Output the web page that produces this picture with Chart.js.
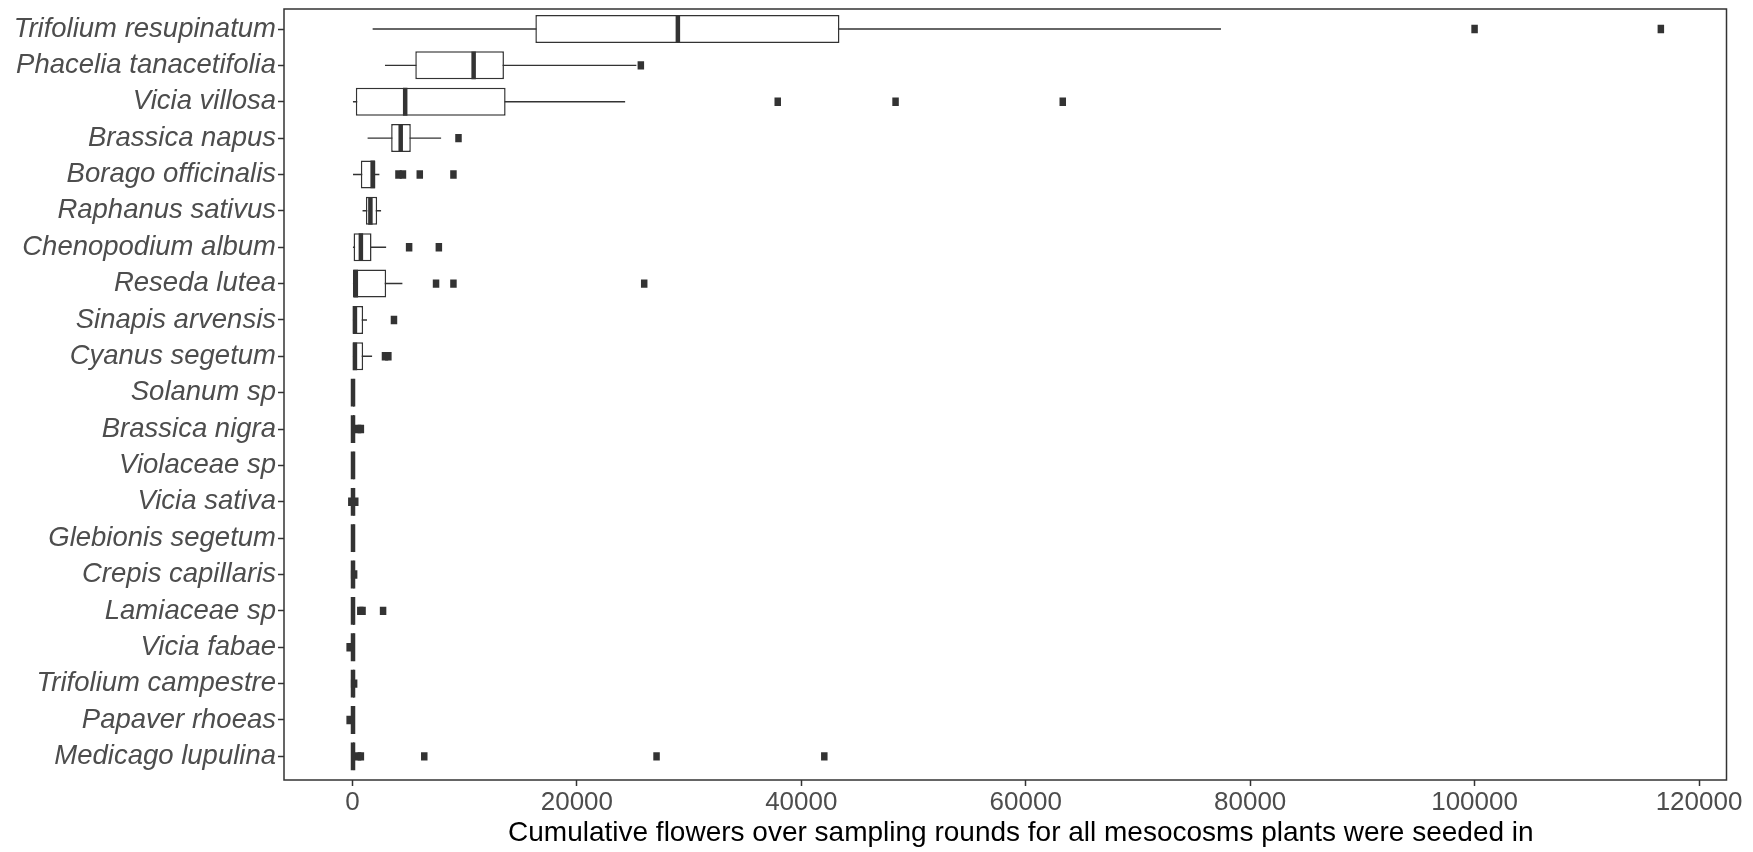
<!DOCTYPE html>
<html lang="en">
<head>
<meta charset="UTF-8">
<title>Cumulative flowers per species</title>
<script src="https://cdn.jsdelivr.net/npm/chart.js"></script>
<style>
    html, body { margin: 0; padding: 0; background: #fff; }
    .wrap { width: 1753px; height: 852px; }
</style>
</head>
<body>
<div class="wrap"><canvas id="flowerChart"></canvas></div>
<script>
// species, top to bottom
const species = [
    'Trifolium resupinatum', 'Phacelia tanacetifolia', 'Vicia villosa', 'Brassica napus',
    'Borago officinalis', 'Raphanus sativus', 'Chenopodium album', 'Reseda lutea',
    'Sinapis arvensis', 'Cyanus segetum', 'Solanum sp', 'Brassica nigra', 'Violaceae sp',
    'Vicia sativa', 'Glebionis segetum', 'Crepis capillaris', 'Lamiaceae sp', 'Vicia fabae',
    'Trifolium campestre', 'Papaver rhoeas', 'Medicago lupulina'
];

// box plot statistics
const whiskerLow  = [1800, 2900, 0, 1350, 50, 900, 0, 0, 0, 0, 0, 0, 0, 0, 0, 0, 0, 0, 0, 0, 0];
const q1          = [16300, 5600, 300, 3450, 750, 1200, 100, 0, 0, 0, 0, 0, 0, 0, 0, 0, 0, 0, 0, 0, 0];
const median      = [29000, 10800, 4700, 4300, 1800, 1600, 750, 300, 220, 220, 50, 50, 50, 50, 50, 50, 50, 50, 50, 50, 50];
const q3          = [43400, 13500, 13650, 5200, 2050, 2200, 1700, 3000, 950, 950, 180, 180, 180, 180, 180, 180, 180, 180, 180, 180, 180];
const whiskerHigh = [77400, 25300, 24300, 7900, 2400, 2550, 3000, 4450, 1300, 1750, 180, 180, 180, 180, 180, 180, 180, 180, 180, 180, 180];
const outliers = [
    [100000, 116600],
    [25700],
    [37900, 48400, 63300],
    [9450],
    [4100, 4500, 6000, 9000],
    [],
    [5050, 7700],
    [7450, 9000, 26000],
    [3700],
    [2900, 3200],
    [],
    [500, 750],
    [],
    [-100, 250],
    [],
    [150],
    [700, 900, 2730],
    [-250],
    [150],
    [-250],
    [500, 750, 6400, 27100, 42050]
];

const xTickValues = [0, 20000, 40000, 60000, 80000, 100000, 120000];
const xMin = -6100;
const xMax = 122450;

const dark = '#333333';
const labelGrey = '#4d4d4d';
const fontFamily = '"Liberation Sans", Arial, sans-serif';

const boxData = species.map((s, i) => ({ y: i, x: [q1[i], q3[i]] }));
const whiskerData = species.map((s, i) => ({ y: i, x: [whiskerLow[i], whiskerHigh[i]] }));
const medianData = species.map((s, i) => ({ y: i, x: median[i] }));
const outlierData = [];
outliers.forEach((list, i) => list.forEach(v => outlierData.push({ y: i, x: v })));

// panel frame like ggplot's panel border
const panelBorder = {
    id: 'panelBorder',
    afterDatasetsDraw(chart) {
        const { ctx, chartArea: a } = chart;
        ctx.save();
        ctx.strokeStyle = dark;
        ctx.lineWidth = 1.5;
        ctx.strokeRect(a.left, a.top, a.right - a.left, a.bottom - a.top);
        ctx.restore();
    }
};

const ctx = document.getElementById('flowerChart').getContext('2d');
new Chart(ctx, {
    type: 'bar',
    data: {
        datasets: [
            {
                type: 'scatter',
                label: 'median',
                data: medianData,
                pointStyle: 'line',
                rotation: 90,
                radius: 13.9,
                borderWidth: 4.5,
                borderColor: dark,
                order: 0
            },
            {
                type: 'scatter',
                label: 'outliers',
                data: outlierData,
                pointStyle: 'line',
                rotation: 90,
                radius: 4.2,
                borderWidth: 6.5,
                borderColor: dark,
                order: 1
            },
            {
                label: 'box',
                data: boxData,
                backgroundColor: '#ffffff',
                borderColor: dark,
                borderWidth: 1.5,
                borderSkipped: false,
                grouped: false,
                categoryPercentage: 1,
                barPercentage: 0.77,
                order: 2
            },
            {
                label: 'whisker',
                data: whiskerData,
                backgroundColor: dark,
                borderWidth: 0,
                grouped: false,
                categoryPercentage: 1,
                barPercentage: 0.04,
                order: 3
            }
        ]
    },
    options: {
        indexAxis: 'y',
        responsive: true,
        maintainAspectRatio: false,
        animation: false,
        events: [],
        layout: { autoPadding: false, padding: { top: 9, right: 26.5, left: 0, bottom: 0 } },
        plugins: {
            legend: { display: false },
            tooltip: { enabled: false }
        },
        scales: {
            x: {
                type: 'linear',
                min: xMin,
                max: xMax,
                beginAtZero: false,
                border: { display: false },
                grid: {
                    drawOnChartArea: false,
                    drawTicks: true,
                    tickLength: 6,
                    tickWidth: 1.5,
                    tickColor: dark
                },
                ticks: {
                    padding: 4,
                    color: labelGrey,
                    font: { family: fontFamily, size: 26, lineHeight: 1 },
                    callback: v => String(v)
                },
                title: {
                    display: true,
                    text: '\u00a0\u00a0\u00a0\u00a0Cumulative flowers over sampling rounds for all mesocosms plants were seeded in',
                    color: '#000000',
                    font: { family: fontFamily, size: 28 },
                    padding: { top: 0, bottom: 1.5 }
                },
                afterBuildTicks(scale) {
                    scale.ticks = xTickValues.map(v => ({ value: v }));
                },
                afterFit(scale) {
                    scale.height = 72;
                    scale.paddingLeft = 0;
                    scale.paddingRight = 0;
                }
            },
            y: {
                type: 'linear',
                reverse: true,
                min: -0.55,
                max: 20.65,
                offset: false,
                border: { display: false },
                grid: {
                    offset: false,
                    drawOnChartArea: false,
                    drawTicks: true,
                    tickLength: 6,
                    tickWidth: 1.5,
                    tickColor: dark
                },
                ticks: {
                    autoSkip: false,
                    padding: 2,
                    color: labelGrey,
                    font: { family: fontFamily, size: 27.5, style: 'italic' },
                    callback: v => species[v]
                },
                afterBuildTicks(scale) {
                    scale.ticks = species.map((s, i) => ({ value: i }));
                },
                afterFit(scale) {
                    scale.width = 284;
                    scale.paddingTop = 0;
                    scale.paddingBottom = 0;
                }
            }
        }
    },
    plugins: [panelBorder]
});
</script>
</body>
</html>
